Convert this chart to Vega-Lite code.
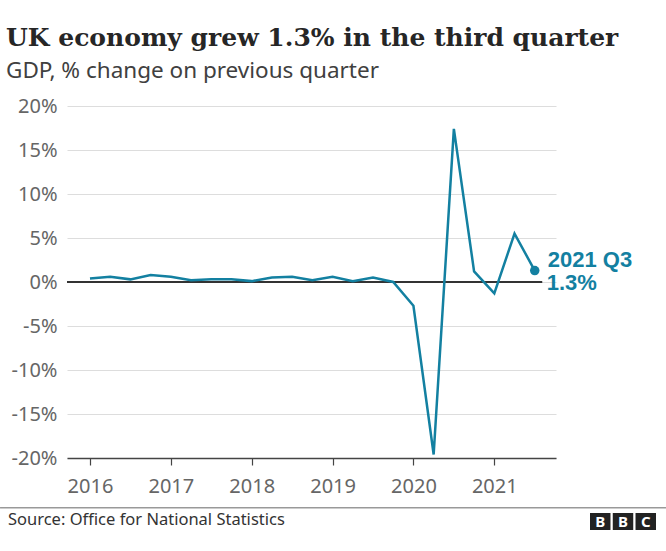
{
  "$schema": "https://vega.github.io/schema/vega-lite/v6.json",
  "width": 489,
  "height": 352,
  "autosize": {"type": "none"},
  "padding": {"left": 67, "top": 106, "right": 110, "bottom": 93},
  "background": "white",
  "title": {
    "text": "UK economy grew 1.3% in the third quarter",
    "subtitle": "GDP, % change on previous quarter",
    "anchor": "start",
    "frame": "group",
    "dx": -61,
    "font": "DejaVu Serif",
    "fontSize": 25,
    "fontWeight": "bold",
    "color": "#262626",
    "subtitleFont": "Noto Sans",
    "subtitleFontSize": 22.5,
    "subtitleColor": "#404040",
    "subtitlePadding": 9,
    "offset": 14
  },
  "config": {"view": {"stroke": null}},
  "datasets": {
    "gdp": [
      {"quarter": "2016 Q1", "t": 2016.0, "v": 0.4},
      {"quarter": "2016 Q2", "t": 2016.25, "v": 0.6},
      {"quarter": "2016 Q3", "t": 2016.5, "v": 0.3},
      {"quarter": "2016 Q4", "t": 2016.75, "v": 0.8},
      {"quarter": "2017 Q1", "t": 2017.0, "v": 0.6},
      {"quarter": "2017 Q2", "t": 2017.25, "v": 0.2},
      {"quarter": "2017 Q3", "t": 2017.5, "v": 0.3},
      {"quarter": "2017 Q4", "t": 2017.75, "v": 0.3},
      {"quarter": "2018 Q1", "t": 2018.0, "v": 0.1},
      {"quarter": "2018 Q2", "t": 2018.25, "v": 0.5},
      {"quarter": "2018 Q3", "t": 2018.5, "v": 0.6},
      {"quarter": "2018 Q4", "t": 2018.75, "v": 0.2},
      {"quarter": "2019 Q1", "t": 2019.0, "v": 0.6},
      {"quarter": "2019 Q2", "t": 2019.25, "v": 0.1},
      {"quarter": "2019 Q3", "t": 2019.5, "v": 0.5},
      {"quarter": "2019 Q4", "t": 2019.75, "v": 0.0},
      {"quarter": "2020 Q1", "t": 2020.0, "v": -2.7},
      {"quarter": "2020 Q2", "t": 2020.25, "v": -19.6},
      {"quarter": "2020 Q3", "t": 2020.5, "v": 17.4},
      {"quarter": "2020 Q4", "t": 2020.75, "v": 1.2},
      {"quarter": "2021 Q1", "t": 2021.0, "v": -1.3},
      {"quarter": "2021 Q2", "t": 2021.25, "v": 5.5},
      {"quarter": "2021 Q3", "t": 2021.5, "v": 1.3}
    ],
    "logo": [
      {"id": "1", "letter": "B"},
      {"id": "2", "letter": "B"},
      {"id": "3", "letter": "C"}
    ],
    "footer": [{"label": "Source: Office for National Statistics"}]
  },
  "resolve": {"scale": {"x": "independent"}},
  "layer": [
    {
      "data": {"name": "gdp"},
      "encoding": {
        "x": {
          "field": "t",
          "type": "quantitative",
          "scale": {"domain": [2015.716, 2021.763], "nice": false, "zero": false},
          "axis": {
            "values": [2016, 2017, 2018, 2019, 2020, 2021],
            "format": "d",
            "title": null,
            "grid": false,
            "domain": true,
            "domainColor": "#444444",
            "domainWidth": 1.5,
            "ticks": true,
            "tickColor": "#444444",
            "tickSize": 7,
            "tickWidth": 1.2,
            "labelFont": "Noto Sans",
            "labelFontSize": 20,
            "labelColor": "#666666",
            "labelPadding": 11
          }
        },
        "y": {
          "field": "v",
          "type": "quantitative",
          "scale": {"domain": [-20, 20], "nice": false},
          "axis": {
            "values": [-20, -15, -10, -5, 0, 5, 10, 15, 20],
            "labelExpr": "datum.value + '%'",
            "title": null,
            "grid": true,
            "gridColor": "#dddddd",
            "gridWidth": 1,
            "domain": false,
            "ticks": false,
            "labelFont": "Noto Sans",
            "labelFontSize": 20,
            "labelColor": "#666666",
            "labelPadding": 10
          }
        }
      },
      "layer": [
        {
          "mark": {"type": "rule", "color": "#333333", "strokeWidth": 2},
          "encoding": {
            "x": {"datum": 2015.716},
            "x2": {"datum": 2021.59},
            "y": {"datum": 0}
          }
        },
        {
          "mark": {"type": "line", "color": "#1380A1", "strokeWidth": 2.5, "strokeJoin": "miter"}
        },
        {
          "transform": [{"filter": "datum.quarter == '2021 Q3'"}],
          "mark": {"type": "point", "filled": true, "opacity": 1, "color": "#1380A1", "size": 90}
        },
        {
          "transform": [{"filter": "datum.quarter == '2021 Q3'"}],
          "mark": {"type": "text", "align": "left", "baseline": "alphabetic", "dx": 13, "dy": -4, "font": "Liberation Sans", "fontSize": 22, "fontWeight": "bold", "color": "#1380A1"},
          "encoding": {"text": {"field": "quarter"}}
        },
        {
          "transform": [
            {"filter": "datum.quarter == '2021 Q3'"},
            {"calculate": "format(datum.v, '.1f') + '%'", "as": "lbl"}
          ],
          "mark": {"type": "text", "align": "left", "baseline": "alphabetic", "dx": 12, "dy": 19, "font": "Liberation Sans", "fontSize": 22, "fontWeight": "bold", "color": "#1380A1"},
          "encoding": {"text": {"field": "lbl"}}
        }
      ]
    },
    {
      "data": {"name": "footer"},
      "layer": [
        {
          "mark": {"type": "rule", "color": "#999999", "strokeWidth": 1.5},
          "encoding": {
            "x": {"datum": 2014.888, "type": "quantitative", "scale": {"domain": [2015.716, 2021.763], "nice": false, "zero": false}, "axis": null},
            "x2": {"datum": 2023.123},
            "y": {"datum": -25.65, "type": "quantitative"}
          }
        },
        {
          "mark": {"type": "text", "align": "left", "baseline": "alphabetic", "font": "Noto Sans", "fontSize": 16.5, "color": "#333333"},
          "encoding": {
            "x": {"datum": 2014.986, "type": "quantitative", "scale": {"domain": [2015.716, 2021.763], "nice": false, "zero": false}, "axis": null},
            "y": {"datum": -27.61, "type": "quantitative"},
            "text": {"field": "label"}
          }
        }
      ]
    },
    {
      "data": {"name": "logo"},
      "encoding": {
        "x": {
          "field": "id",
          "type": "nominal",
          "scale": {"type": "band", "range": [523, 589], "paddingInner": 0.1, "paddingOuter": 0},
          "axis": null
        }
      },
      "layer": [
        {
          "mark": {"type": "rect", "color": "#222222"},
          "encoding": {
            "y": {"datum": -26.25},
            "y2": {"datum": -28.18}
          }
        },
        {
          "mark": {"type": "text", "align": "center", "baseline": "middle", "font": "Noto Sans", "fontSize": 15, "fontWeight": "bold", "color": "white"},
          "encoding": {
            "y": {"datum": -27.22},
            "text": {"field": "letter"}
          }
        }
      ]
    }
  ]
}
